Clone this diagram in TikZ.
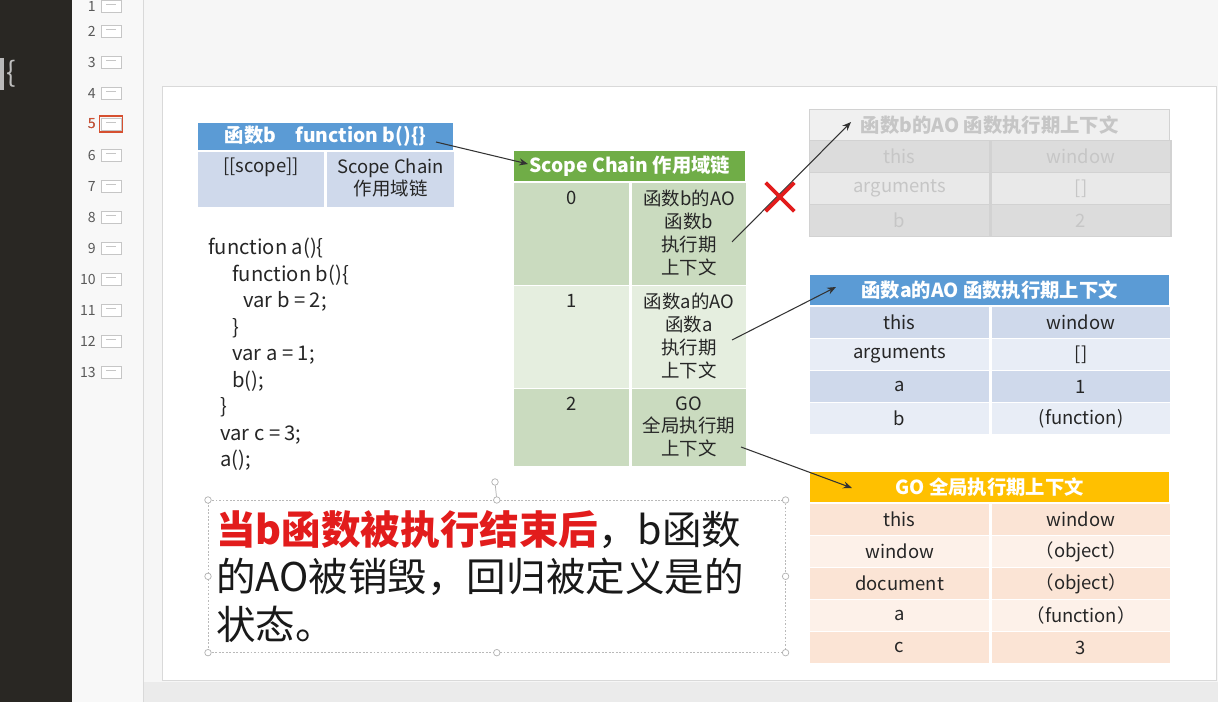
\documentclass[tikz,border=0pt]{standalone}
\usepackage{fontspec}
\setmainfont{Noto Sans CJK SC}
\usetikzlibrary{arrows.meta,positioning}
\definecolor{deck}{RGB}{41,39,35}
\definecolor{pane}{RGB}{248,248,248}
\definecolor{canvas}{RGB}{246,246,246}
\definecolor{floor}{RGB}{235,235,235}
\definecolor{hdblue}{RGB}{91,155,213}
\definecolor{rowblueA}{RGB}{207,217,235}
\definecolor{rowblueB}{RGB}{232,237,246}
\definecolor{hdgreen}{RGB}{112,173,71}
\definecolor{rowgreenA}{RGB}{202,219,191}
\definecolor{rowgreenB}{RGB}{229,238,223}
\definecolor{hdgold}{RGB}{255,192,0}
\definecolor{rowpeachA}{RGB}{251,228,213}
\definecolor{rowpeachB}{RGB}{253,241,233}
\definecolor{fadeA}{RGB}{220,220,220}
\definecolor{fadeB}{RGB}{233,233,233}
\definecolor{fadehd}{RGB}{240,240,240}
\definecolor{fadetxt}{RGB}{198,198,198}
\definecolor{slidered}{RGB}{226,28,28}
\definecolor{thumbsel}{RGB}{214,80,48}
\definecolor{ink}{RGB}{38,38,38}

\tikzset{
  cell/.style={anchor=north west,inner sep=0pt,minimum width=3.6cm,minimum height=0.64cm,
    draw=white,line width=0.8pt,text=ink,font=\fontsize{10.5}{12}\selectfont},
  hd/.style={cell,text=white,font=\bfseries\fontsize{11}{13}\selectfont},
  celltext/.style={inner sep=0pt,align=center,text=ink,font=\fontsize{10.5}{13}\selectfont},
  code/.style={anchor=base west,inner sep=0pt,text=ink,font=\fontsize{11.5}{13}\selectfont},
  link/.style={draw=black!80,line width=0.6pt,-{Stealth[length=5pt,width=4pt]}},
  handle/.style={circle,draw=gray!60,fill=white,line width=0.4pt,inner sep=0pt,minimum size=0.13cm}
}

\begin{document}
\begin{tikzpicture}[x=0.02cm,y=-0.02cm]
  \useasboundingbox (0,0) rectangle (1218,702);
  \fill[canvas] (0,0) rectangle (1218,702);
  \fill[floor] (143,682) rectangle (1218,702);
  \fill[deck] (0,0) rectangle (72,702);
  \fill[gray!55] (0,58) rectangle (4,90);
  \node[text=gray!50,font=\fontsize{16}{16}\selectfont] (brace) at (11,74) {\{};
  \fill[pane] (72,0) rectangle (143,702);
  \draw[gray!30] (143,0) -- (143,702);

  \foreach \i in {1,...,13}
  {
    \pgfmathsetmacro{\y}{max((\i-1)*31,6)}
    \node[anchor=east,inner sep=0pt,text=black!65,font=\fontsize{8}{8}\selectfont] (num\i) at (96,\y) {\i};
    \node[draw=gray!45,fill=white,inner sep=0pt,minimum width=0.4cm,minimum height=0.24cm] (thumb\i) at (111,\y) {};
    \draw[gray!45,line width=0.3pt] ([xshift=-0.1cm,yshift=0.03cm]thumb\i.center) -- ([xshift=0.1cm,yshift=0.03cm]thumb\i.center);
  }
  \node[anchor=east,inner sep=0pt,text=thumbsel,font=\fontsize{8}{8}\selectfont] at (num5.east) {5};
  \node[draw=thumbsel,line width=1pt,inner sep=0pt,minimum width=0.46cm,minimum height=0.32cm] (sel) at (thumb5) {};

  \fill[white] (162,86) rectangle (1216,680);
  \draw[gray!30] (162,86) rectangle (1216,680);

  \node[hd,fill=hdblue,minimum width=5.12cm,minimum height=0.56cm] (fnhead) at (197,122) {函数b\hspace{1em}function b()\{\}};
  \node[cell,fill=rowblueA,minimum width=2.54cm,minimum height=1.12cm] (scopekey) at (197,151) {};
  \node[cell,fill=rowblueA,minimum width=2.58cm,minimum height=1.12cm] (scopeval) at (scopekey.north east) {};
  \node[celltext,below=0.14cm of scopekey.north] (scopekeyt) {[[scope]]};
  \node[celltext,below=0.14cm of scopeval.north] (scopevalt) {Scope Chain\\作用域链};

  \foreach \t/\dx [count=\i] in {function a()\{/0, function b()\{/24, var b = 2;/35, \}/24,
      var a = 1;/24, b();/24, \}/12, var c = 3;/12, a();/12}
    \node[code] (code\i) at ({208+\dx},{255+(\i-1)*26.5}) {\t};

  \node[hd,fill=hdgreen,minimum width=4.64cm,minimum height=0.62cm] (chainhead) at (513,150) {Scope Chain 作用域链};
  \foreach \top/\h/\c/\t [count=\i from 0] in {182/103/rowgreenA/{函数b的AO\\函数b\\执行期\\上下文},
      285/103/rowgreenB/{函数a的AO\\函数a\\执行期\\上下文},
      388/78/rowgreenA/{GO\\全局执行期\\上下文}}
  {
    \node[cell,fill=\c,minimum width=2.32cm,minimum height=\h*0.02cm] (idx\i) at (513,\top) {};
    \node[cell,fill=\c,minimum width=2.32cm,minimum height=\h*0.02cm] (ao\i) at (idx\i.north east) {};
    \node[celltext,below=0.17cm of idx\i.north] (idxt\i) {\i};
    \node[celltext,below=0.16cm of ao\i.north] (aot\i) {\t};
  }

  \node[hd,fill=fadehd,draw=gray!35,text=fadetxt,minimum width=7.2cm,minimum height=0.62cm] (aobhead) at (809,109) {函数b的AO 函数执行期上下文};
  \foreach \k/\v/\c [count=\i] in {this/window/fadeA, arguments/{[]}/fadeB, b/2/fadeA}
  {
    \node[cell,fill=\c,draw=gray!35,text=fadetxt] (aobkey\i) at (809,{140+(\i-1)*32}) {\k};
    \node[cell,fill=\c,draw=gray!35,text=fadetxt] (aobval\i) at (aobkey\i.north east) {\v};
  }

  \node[hd,fill=hdblue,minimum width=7.2cm,minimum height=0.62cm] (aoahead) at (809,274) {函数a的AO 函数执行期上下文};
  \foreach \k/\v/\c [count=\i] in {this/window/rowblueA, arguments/{[]}/rowblueB, a/1/rowblueA, b/{(function)}/rowblueB}
  {
    \node[cell,fill=\c] (aoakey\i) at (809,{306+(\i-1)*32}) {\k};
    \node[cell,fill=\c] (aoaval\i) at (aoakey\i.north east) {\v};
  }

  \node[hd,fill=hdgold,minimum width=7.2cm,minimum height=0.62cm] (gohead) at (809,471) {GO 全局执行期上下文};
  \foreach \k/\v/\c [count=\i] in {this/window/rowpeachA, window/{（object）}/rowpeachB, document/{（object）}/rowpeachA,
      a/{（function）}/rowpeachB, c/3/rowpeachA}
  {
    \node[cell,fill=\c] (gokey\i) at (809,{503+(\i-1)*32}) {\k};
    \node[cell,fill=\c] (goval\i) at (gokey\i.north east) {\v};
  }

  \coordinate (fnout) at (436,142);
  \coordinate (chainin) at (528,164);
  \coordinate (ao0out) at (732,242);
  \coordinate (aobin) at (851,122);
  \coordinate (ao1out) at (732,340);
  \coordinate (aoain) at (836,287);
  \coordinate (ao2out) at (741,447);
  \coordinate (goin) at (852,488);
  \draw[link] (fnout) -- (chainin);
  \draw[link] (ao0out) -- (aobin);
  \draw[link] (ao1out) -- (aoain);
  \draw[link] (ao2out) -- (goin);

  \node[minimum size=0.56cm,inner sep=0pt] (xmark) at (780,197) {};
  \draw[slidered,line width=2.2pt] (xmark.north west) -- (xmark.south east)
    (xmark.north east) -- (xmark.south west);

  \node[draw=gray!55,dash pattern=on 1pt off 1pt,line width=0.4pt,anchor=north west,
    minimum width=11.54cm,minimum height=3.04cm] (note) at (208,500) {};
  \node[handle] (spin) at (495,482) {};
  \draw[gray!60,line width=0.4pt] (spin) -- (note.north);
  \foreach \a [count=\i] in {north west,north,north east,east,south east,south,south west,west}
    \node[handle] (grip\i) at (note.\a) {};
  \node[anchor=north west,align=left,inner sep=0pt,text=black!90,font=\fontsize{22.5}{27}\selectfont] (notetext) at (216,510)
    {\textcolor{slidered}{\bfseries 当b函数被执行结束后}，b函数\\的AO被销毁，回归被定义是的\\状态。};
\end{tikzpicture}
\end{document}
